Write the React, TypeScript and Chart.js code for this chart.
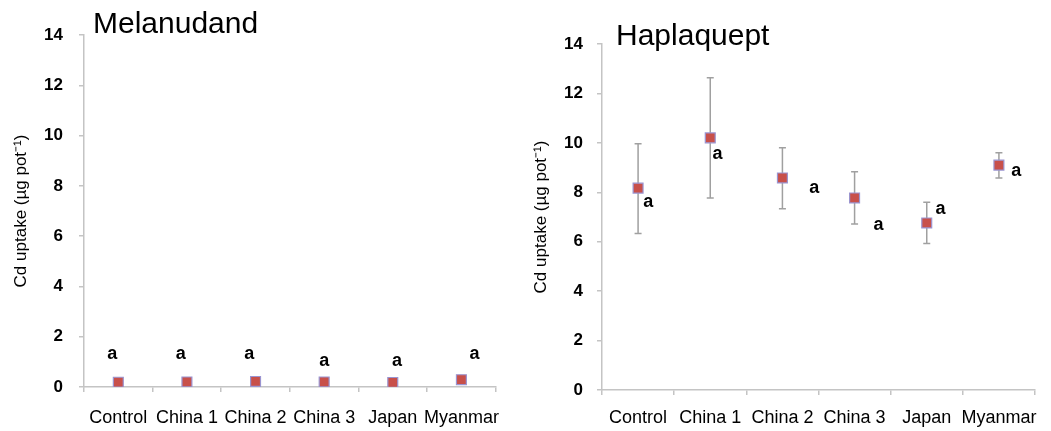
import React, { useEffect, useRef } from 'react';
import { Chart, registerables } from 'chart.js';

Chart.register(...registerables);

// ---------- data ----------
const categories = ['Control', 'China 1', 'China 2', 'China 3', 'Japan', 'Myanmar'];
const yTickValues = [0, 2, 4, 6, 8, 10, 12, 14];

const melanudandMean = [0.19, 0.2, 0.22, 0.2, 0.18, 0.29];
const melanudandUpper = [0.19, 0.2, 0.22, 0.2, 0.18, 0.29];
const melanudandLower = [0.19, 0.2, 0.22, 0.2, 0.18, 0.29];
const melanudandLetters = ['a', 'a', 'a', 'a', 'a', 'a'];
const melanudandLetterY = [1.32, 1.32, 1.32, 1.05, 1.05, 1.32];
const melanudandLetterDx = [-0.09, -0.09, -0.09, 0.0, 0.06, 0.19];

const haplaqueptMean = [8.17, 10.2, 8.58, 7.77, 6.76, 9.1];
const haplaqueptUpper = [9.96, 12.63, 9.8, 8.83, 7.6, 9.6];
const haplaqueptLower = [6.33, 7.77, 7.33, 6.72, 5.93, 8.58];
const haplaqueptLetters = ['a', 'a', 'a', 'a', 'a', 'a'];
const haplaqueptLetterY = [7.62, 9.55, 8.18, 6.68, 7.33, 8.87];
const haplaqueptLetterDx = [0.14, 0.1, 0.44, 0.33, 0.19, 0.24];

const yAxisTitle = 'Cd uptake (µg pot⁻¹)';

// ---------- styling ----------
const FONT = '"Liberation Sans", Arial, Helvetica, sans-serif';
const AXIS_COLOR = '#c4c4c4';
const ERR_COLOR = '#a0a0a0';

type PanelCfg = {
  title: string;
  mean: number[];
  upper: number[];
  lower: number[];
  letters: string[];
  letterY: number[];
  letterDx: number[];
  left: number;
  width: number;
  padTop: number;
  padRight: number;
  yWidth: number;
  xHeight: number;
  titleX: number;
  titleY: number;
  yPad: number;
  xPad: number;
};

function makePlugin(cfg: PanelCfg) {
  return {
    id: 'annot',
    beforeDatasetsDraw(chart: any) {
      const { ctx } = chart;
      const xs = chart.scales.x;
      const ys = chart.scales.y;
      ctx.save();
      ctx.strokeStyle = ERR_COLOR;
      ctx.lineWidth = 1.5;
      cfg.mean.forEach((_, i) => {
        if (cfg.upper[i] === cfg.lower[i]) return;
        const x = xs.getPixelForValue(i);
        const yt = ys.getPixelForValue(cfg.upper[i]);
        const yb = ys.getPixelForValue(cfg.lower[i]);
        ctx.beginPath();
        ctx.moveTo(x, yt);
        ctx.lineTo(x, yb);
        ctx.moveTo(x - 3.5, yt);
        ctx.lineTo(x + 3.5, yt);
        ctx.moveTo(x - 3.5, yb);
        ctx.lineTo(x + 3.5, yb);
        ctx.stroke();
      });
      ctx.restore();
    },
    afterDatasetsDraw(chart: any) {
      const { ctx, chartArea } = chart;
      const xs = chart.scales.x;
      const ys = chart.scales.y;
      ctx.save();
      // significance letters
      ctx.fillStyle = '#000';
      ctx.font = `bold 18px ${FONT}`;
      ctx.textAlign = 'center';
      ctx.textBaseline = 'alphabetic';
      cfg.letters.forEach((t, i) => {
        const x = xs.getPixelForValue(i + cfg.letterDx[i]);
        const y = ys.getPixelForValue(cfg.letterY[i]);
        ctx.fillText(t, x, y + 5);
      });
      // panel title
      ctx.font = `30px ${FONT}`;
      ctx.textAlign = 'left';
      ctx.fillText(cfg.title, cfg.titleX, cfg.titleY);
      // y axis title
      ctx.font = `17px ${FONT}`;
      ctx.textAlign = 'center';
      ctx.textBaseline = 'middle';
      ctx.translate(21, (chartArea.top + chartArea.bottom) / 2);
      ctx.rotate(-Math.PI / 2);
      ctx.fillText(yAxisTitle, 0, 0);
      ctx.restore();
    },
  };
}

function Panel({ cfg }: { cfg: PanelCfg }) {
  const ref = useRef<HTMLCanvasElement>(null);
  useEffect(() => {
    if (!ref.current) return;
    const chart = new Chart(ref.current, {
      type: 'line',
      data: {
        labels: categories,
        datasets: [
          {
            data: cfg.mean,
            showLine: false,
            pointStyle: 'rect',
            pointRadius: 7,
            pointHoverRadius: 7,
            pointBackgroundColor: '#c8504a',
            pointBorderColor: '#9a94d0',
            pointBorderWidth: 1.2,
          },
        ],
      },
      options: {
        animation: false,
        responsive: true,
        maintainAspectRatio: false,
        layout: { padding: { top: cfg.padTop, right: cfg.padRight, left: 0, bottom: 0 } },
        plugins: { legend: { display: false }, tooltip: { enabled: false }, title: { display: false } },
        scales: {
          x: {
            type: 'category',
            offset: true,
            grid: {
              offset: true,
              drawOnChartArea: false,
              drawTicks: true,
              tickLength: 5,
              color: AXIS_COLOR,
              lineWidth: 1.5,
            },
            border: { display: true, color: AXIS_COLOR, width: 1.5 },
            ticks: {
              color: '#000',
              font: { family: FONT, size: 18 },
              padding: cfg.xPad,
              maxRotation: 0,
              autoSkip: false,
            },
            afterFit: (s: any) => {
              s.height = cfg.xHeight;
            },
          },
          y: {
            type: 'linear',
            min: 0,
            max: 14,
            afterBuildTicks: (s: any) => {
              s.ticks = yTickValues.map((v) => ({ value: v }));
            },
            grid: {
              drawOnChartArea: false,
              drawTicks: true,
              tickLength: 5,
              color: AXIS_COLOR,
              lineWidth: 1.5,
            },
            border: { display: true, color: AXIS_COLOR, width: 1.5 },
            ticks: {
              color: '#000',
              font: { family: FONT, size: 17, weight: 'bold' },
              padding: cfg.yPad,
            },
            afterFit: (s: any) => {
              s.width = cfg.yWidth;
            },
          },
        },
      },
      plugins: [makePlugin(cfg)],
    } as any);
    return () => chart.destroy();
  }, []);
  return (
    <div style={{ position: 'absolute', left: cfg.left, top: 0, width: cfg.width, height: 431 }}>
      <canvas ref={ref} />
    </div>
  );
}

const leftCfg: PanelCfg = {
  title: 'Melanudand',
  mean: melanudandMean,
  upper: melanudandUpper,
  lower: melanudandLower,
  letters: melanudandLetters,
  letterY: melanudandLetterY,
  letterDx: melanudandLetterDx,
  left: 0,
  width: 515,
  padTop: 35,
  padRight: 13,
  yWidth: 84,
  xHeight: 44,
  titleX: 93,
  titleY: 33,
  yPad: 16,
  xPad: 15,
};

const rightCfg: PanelCfg = {
  title: 'Haplaquept',
  mean: haplaqueptMean,
  upper: haplaqueptUpper,
  lower: haplaqueptLower,
  letters: haplaqueptLetters,
  letterY: haplaqueptLetterY,
  letterDx: haplaqueptLetterDx,
  left: 520,
  width: 531,
  padTop: 44,
  padRight: 16,
  yWidth: 82,
  xHeight: 41,
  titleX: 96,
  titleY: 45,
  yPad: 14,
  xPad: 12,
};

export default function App() {
  return (
    <div style={{ position: 'fixed', left: 0, top: 0, width: 1051, height: 431, background: '#fff' }}>
      <Panel cfg={leftCfg} />
      <Panel cfg={rightCfg} />
    </div>
  );
}
